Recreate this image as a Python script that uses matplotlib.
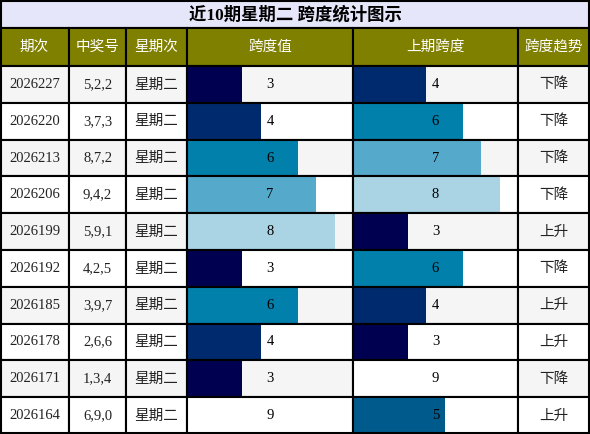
import matplotlib
matplotlib.use("Agg")
import matplotlib.pyplot as plt
from matplotlib.patches import Rectangle

title = "近10期星期二 跨度统计图示"
headers = ["期次", "中奖号", "星期次", "跨度值", "上期跨度", "跨度趋势"]
periods = ["2026227","2026220","2026213","2026206","2026199","2026192","2026185","2026178","2026171","2026164"]
numbers = ["5,2,2","3,7,3","8,7,2","9,4,2","5,9,1","4,2,5","3,9,7","2,6,6","1,3,4","6,9,0"]
weekday = ["星期二"]*10
span = [3,4,6,7,8,3,6,4,3,9]
prev_span = [4,6,7,8,3,6,4,3,9,5]
trend = ["下降","下降","下降","下降","上升","下降","上升","上升","下降","上升"]

colors = {3:"#000050",4:"#002a6e",5:"#005a8c",6:"#0080aa",7:"#55aacb",8:"#aad4e4",9:"#ffffff",
          0:"#ffffff",1:"#000050",2:"#000050"}

W, H = 590, 434
fig = plt.figure(figsize=(W/100, H/100), dpi=100)
ax = fig.add_axes([0,0,1,1])
ax.set_xlim(0, W); ax.set_ylim(H, 0); ax.axis("off")

cjk = ["Noto Sans CJK SC", "DejaVu Sans"]
serif = ["Liberation Serif", "DejaVu Serif"]
cols = [0, 69, 126, 187, 353, 518, 590]
title_h = 28; head_h = 38
row_h = (H - title_h - head_h) / 10
lw = 1.5

ax.add_patch(Rectangle((0,0), W, title_h, facecolor="#e6e6fa", edgecolor="black", lw=lw))
ax.text(W/2, title_h/2+1, title, ha="center", va="center", fontsize=12.5, fontweight="bold",
        family=["Liberation Serif", "Noto Sans CJK SC"])

for i, h in enumerate(headers):
    x0, x1 = cols[i], cols[i+1]
    ax.add_patch(Rectangle((x0, title_h), x1-x0, head_h, facecolor="#808000", edgecolor="black", lw=lw))
    ax.text((x0+x1)/2, title_h+head_h/2, h, ha="center", va="center", color="white", fontsize=10.5, family=cjk)

for r in range(10):
    y0 = title_h + head_h + r*row_h
    bg = "#f5f5f5" if r % 2 == 0 else "#ffffff"
    vals = [periods[r], numbers[r], weekday[r], None, None, trend[r]]
    for c in range(6):
        x0, x1 = cols[c], cols[c+1]
        ax.add_patch(Rectangle((x0, y0), x1-x0, row_h, facecolor=bg, edgecolor="none"))
        if c in (3, 4):
            v = span[r] if c == 3 else prev_span[r]
            bw = (x1-x0) * v / 9
            ax.add_patch(Rectangle((x0, y0+1), bw, row_h-2, facecolor=colors[v], edgecolor="none"))
            ax.text((x0+x1)/2, y0+row_h/2, str(v), ha="center", va="center", fontsize=10.5, family=serif)
        else:
            txt = vals[c]
            fam = serif if c in (0, 1) else cjk
            ax.text((x0+x1)/2, y0+row_h/2, txt, ha="center", va="center", fontsize=10.5 if c in (0,1) else 10.5,
                    family=fam, color="#222222")
        ax.add_patch(Rectangle((x0, y0), x1-x0, row_h, facecolor="none", edgecolor="black", lw=lw))

ax.add_patch(Rectangle((0.75,0.75), W-1.5, H-1.5, facecolor="none", edgecolor="black", lw=lw))
fig.savefig("out.png", dpi=100)
